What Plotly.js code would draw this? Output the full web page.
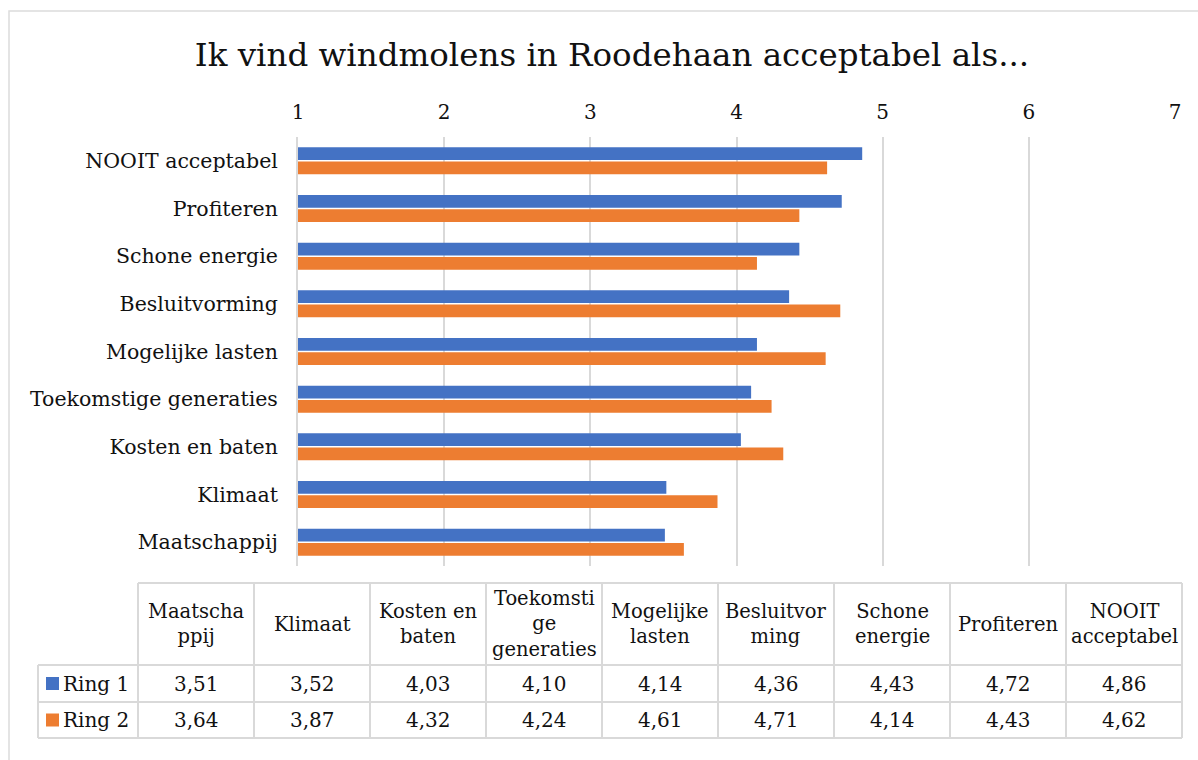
<!DOCTYPE html>
<html>
<head>
<meta charset="utf-8">
<script src="https://cdn.plot.ly/plotly-3.0.1.min.js"></script>
<style>html,body{margin:0;padding:0;background:#fff;}#chart{width:1198px;height:760px;}</style>
</head>
<body>
<div id="chart"></div>
<script>
// ---- data ----
var categories = ["Maatschappij","Klimaat","Kosten en baten","Toekomstige generaties","Mogelijke lasten","Besluitvorming","Schone energie","Profiteren","NOOIT acceptabel"];
var headerLabels = ["Maatscha<br>ppij","Klimaat","Kosten en<br>baten","Toekomsti<br>ge<br>generaties","Mogelijke<br>lasten","Besluitvor<br>ming","Schone<br>energie","Profiteren","NOOIT<br>acceptabel"];
var ring1 = [3.51,3.52,4.03,4.10,4.14,4.36,4.43,4.72,4.86];
var ring2 = [3.64,3.87,4.32,4.24,4.61,4.71,4.14,4.43,4.62];
var seriesNames = ["Ring 1","Ring 2"];
var xTickVals = [1,2,3,4,5,6,7];
var chartTitle = "Ik vind windmolens in Roodehaan acceptabel als...";

// ---- layout helpers ----
var W = 1198, H = 760;
var ml = 298, mr = 23, mt = 137, mb = 194;
var pw = W - ml - mr, ph = H - mt - mb;
function px(x){ return (x - ml) / pw; }
function py(y){ return (H - mb - y) / ph; }
var FONT = "DejaVu Serif, Liberation Serif, serif";
var colors = ["#4472C4","#ED7D31"];
var gridCol = "#d9d9d9";
var txtCol = "#111";

var traces = [
  {type:"bar", orientation:"h", name:seriesNames[1], y:categories, x:ring2, marker:{color:colors[1]}, hoverinfo:"x+y"},
  {type:"bar", orientation:"h", name:seriesNames[0], y:categories, x:ring1, marker:{color:colors[0]}, hoverinfo:"x+y"}
];

var shapes = [];
var annotations = [];
function hline(y, x0, x1){ shapes.push({type:"line", xref:"paper", yref:"paper", x0:px(x0), x1:px(x1), y0:py(y), y1:py(y), line:{color:gridCol, width:2}}); }
function vline(x, y0, y1){ shapes.push({type:"line", xref:"paper", yref:"paper", x0:px(x), x1:px(x), y0:py(y0), y1:py(y1), line:{color:gridCol, width:2}}); }

// outer border
shapes.push({type:"rect", xref:"paper", yref:"paper", x0:px(9), x1:px(1210), y0:py(11), y1:py(780), line:{color:"#dcdcdc", width:1.5}, fillcolor:"rgba(0,0,0,0)"});

// data table
var tTop = 583, tHead = 665, tR1 = 702, tR2 = 738;
var c0 = 138, cw = 116, legL = 38;
var n = categories.length;
var tRight = c0 + cw * n;
hline(tTop, c0, tRight);
hline(tHead, legL, tRight);
hline(tR1, legL, tRight);
hline(tR2, legL, tRight);
vline(legL, tHead, tR2);
for (var i = 0; i <= n; i++) vline(c0 + cw * i, tTop, tR2);

function fmt(v){ return v.toFixed(2).replace(".", ","); }
var rows = [ring1, ring2];
var rowCenters = [(tHead + tR1) / 2, (tR1 + tR2) / 2];
for (var i = 0; i < n; i++) {
  var cx = c0 + cw * i + cw / 2;
  annotations.push({xref:"paper", yref:"paper", x:px(cx), y:py((tTop + tHead) / 2), text:headerLabels[i], showarrow:false, xanchor:"center", yanchor:"middle", align:"center", font:{family:FONT, size:19.5, color:txtCol}});
  for (var r = 0; r < 2; r++) {
    annotations.push({xref:"paper", yref:"paper", x:px(cx), y:py(rowCenters[r]), text:fmt(rows[r][i]), showarrow:false, xanchor:"center", yanchor:"middle", font:{family:FONT, size:20, color:txtCol}});
  }
}
for (var r = 0; r < 2; r++) {
  var yc = rowCenters[r];
  shapes.push({type:"rect", xref:"paper", yref:"paper", x0:px(46), x1:px(59), y0:py(yc - 6.5), y1:py(yc + 6.5), line:{width:0}, fillcolor:colors[r]});
  annotations.push({xref:"paper", yref:"paper", x:px(61), y:py(yc), text:seriesNames[r], showarrow:false, xanchor:"left", yanchor:"middle", font:{family:FONT, size:20, color:txtCol}});
}

var layout = {
  width:W, height:H,
  margin:{l:ml, r:mr, t:mt, b:mb, pad:0},
  paper_bgcolor:"#fff", plot_bgcolor:"#fff",
  showlegend:false,
  barmode:"group", bargap:0.4, bargroupgap:0.11,
  title:{text:chartTitle, font:{family:FONT, size:32.5, color:txtCol}, x:612/W, xanchor:"center", xref:"container", y:1 - 55/H, yanchor:"middle", yref:"container"},
  xaxis:{side:"top", range:[1,7], tickvals:xTickVals, showgrid:true, gridcolor:gridCol, gridwidth:2, zeroline:false, showline:false, ticks:"", ticklabelstandoff:13, tickfont:{family:FONT, size:20, color:txtCol}, fixedrange:true},
  yaxis:{type:"category", categoryorder:"array", categoryarray:categories, showgrid:false, zeroline:false, showline:true, linecolor:gridCol, linewidth:2, ticks:"", ticklabelstandoff:14, tickfont:{family:FONT, size:20.5, color:txtCol}, fixedrange:true},
  shapes:shapes,
  annotations:annotations,
  font:{family:FONT}
};

Plotly.newPlot("chart", traces, layout, {displayModeBar:false, staticPlot:true});
</script>
</body>
</html>
